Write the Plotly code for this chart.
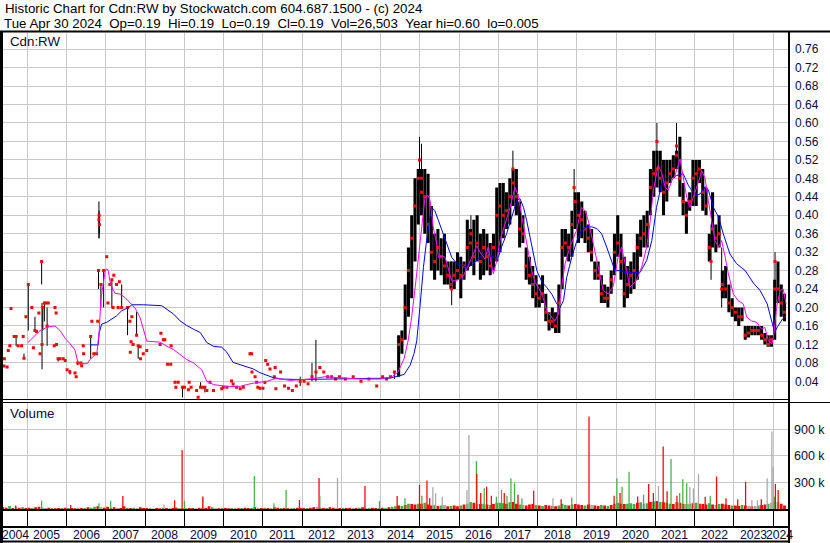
import plotly.graph_objects as go
import pandas as pd

W, H = 830, 543

# ---------------- data ----------------
# single-price trades (no range), 2004-2014: decimal year, price
dot_t = [2004.40, 2004.41, 2004.48, 2004.51, 2004.55, 2004.58, 2004.66, 2004.76, 2004.85, 2004.89, 2004.96,
         2005.11, 2005.15, 2005.23, 2005.29, 2005.32, 2005.47, 2005.53, 2005.68, 2005.70, 2005.73, 2005.74,
         2005.83, 2005.91, 2005.96,
         2006.01, 2006.21, 2006.24, 2006.36, 2006.38, 2006.42, 2006.43, 2006.64, 2006.69, 2006.76, 2006.79,
         2007.02, 2007.05, 2007.10, 2007.18, 2007.20, 2007.27, 2007.31, 2007.34, 2007.61, 2007.62, 2007.64,
         2007.66, 2007.69, 2007.87, 2007.88, 2007.95,
         2008.04, 2008.38, 2008.40, 2008.46, 2008.50, 2008.57, 2008.65, 2008.66, 2008.76, 2008.78, 2008.84,
         2009.00, 2009.10, 2009.12, 2009.17, 2009.31, 2009.35, 2009.46, 2009.57, 2009.65, 2009.74, 2009.95, 2009.99,
         2010.08, 2010.20, 2010.24, 2010.33, 2010.42, 2010.50, 2010.67, 2010.71, 2010.72, 2010.80, 2010.84,
         2010.87, 2010.92,
         2011.00, 2011.07, 2011.12, 2011.18, 2011.31, 2011.33, 2011.45, 2011.55, 2011.65, 2011.75, 2011.85,
         2012.05, 2012.15, 2012.45, 2012.55, 2012.65, 2012.75, 2012.85, 2012.95,
         2013.10, 2013.30, 2013.50, 2013.70, 2013.90, 2014.05, 2014.15, 2014.25]
dot_p = [0.073, 0.089, 0.071, 0.107, 0.117, 0.198, 0.137, 0.117, 0.117, 0.137, 0.180,
         0.200, 0.113, 0.148, 0.188, 0.100, 0.210, 0.210, 0.117, 0.200, 0.188, 0.120,
         0.089, 0.089, 0.085,
         0.065, 0.058, 0.050, 0.080, 0.074, 0.117, 0.100, 0.170, 0.100, 0.100, 0.170,
         0.310, 0.210, 0.250, 0.200, 0.270, 0.250, 0.200, 0.256, 0.170, 0.103, 0.126,
         0.180, 0.120, 0.115, 0.089, 0.100,
         0.107, 0.120, 0.144, 0.130, 0.130, 0.077, 0.077, 0.117, 0.038, 0.027, 0.038,
         0.027, 0.022, 0.038, 0.027, 0.020, 0.0055, 0.027, 0.020, 0.038, 0.020, 0.024, 0.027,
         0.027, 0.041, 0.034, 0.027, 0.024, 0.027, 0.100, 0.100, 0.060, 0.050, 0.038,
         0.027, 0.025,
         0.025, 0.085, 0.077, 0.067, 0.070, 0.024, 0.060, 0.030, 0.025, 0.020, 0.030,
         0.040, 0.035, 0.070, 0.060, 0.050, 0.050, 0.045, 0.050,
         0.045, 0.050, 0.040, 0.045, 0.030, 0.050, 0.045, 0.050]

# ranged single trading days (sparse years, plus extreme days of the active years): year, high, low, close
bar_t  = [2004.71, 2004.91, 2005.02, 2005.19, 2005.36, 2005.37, 2005.39, 2005.43, 2005.50, 2005.78,
          2006.08, 2006.28, 2006.61, 2006.81, 2006.82, 2006.825, 2006.83, 2006.87, 2006.94,
          2007.15, 2007.40, 2007.55, 2007.78, 2007.82, 2008.95, 2009.41, 2009.52, 2011.05, 2011.29,
          2011.95, 2012.25, 2012.35, 2014.35,
          2014.99, 2015.04, 2015.81, 2016.30, 2017.37, 2018.93, 2021.04, 2021.54, 2022.42, 2022.69, 2024.05]
bar_hi = [0.137, 0.100, 0.250, 0.180, 0.300, 0.210, 0.200, 0.210, 0.200, 0.089,
          0.065, 0.085, 0.137, 0.280, 0.430, 0.410, 0.400, 0.250, 0.280,
          0.260, 0.250, 0.200, 0.190, 0.117, 0.027, 0.038, 0.027, 0.038, 0.050,
          0.050, 0.080, 0.130, 0.060,
          0.570, 0.555, 0.300, 0.400, 0.540, 0.500, 0.600, 0.600, 0.380, 0.330, 0.320]
bar_lo = [0.117, 0.090, 0.150, 0.150, 0.250, 0.066, 0.150, 0.170, 0.117, 0.083,
          0.055, 0.075, 0.089, 0.240, 0.350, 0.350, 0.360, 0.200, 0.200,
          0.200, 0.200, 0.140, 0.140, 0.089, 0.005, 0.027, 0.016, 0.034, 0.045,
          0.030, 0.040, 0.040, 0.045,
          0.450, 0.420, 0.205, 0.330, 0.460, 0.410, 0.500, 0.520, 0.260, 0.200, 0.220]
bar_cl = [0.137, 0.090, 0.250, 0.150, 0.300, 0.120, 0.200, 0.210, 0.160, 0.089,
          0.060, 0.080, 0.137, 0.280, 0.390, 0.400, 0.380, 0.250, 0.280,
          0.260, 0.200, 0.200, 0.140, 0.117, 0.027, 0.027, 0.027, 0.038, 0.050,
          0.040, 0.050, 0.060, 0.060,
          0.520, 0.480, 0.240, 0.360, 0.500, 0.460, 0.560, 0.550, 0.300, 0.240, 0.300]

# monthly ranges of the active period (typical daily range), Jun 2014 .. Apr 2024
month_start, month_end = "2014-06", "2024-04"
month_hi = [0.14, 0.15, 0.25, 0.33, 0.40, 0.48, 0.50,
            0.50, 0.50, 0.49, 0.42, 0.36, 0.37, 0.35, 0.36, 0.30, 0.30, 0.30, 0.32,
            0.31, 0.30, 0.39, 0.37, 0.39, 0.40, 0.36, 0.37, 0.36, 0.34, 0.36, 0.46,
            0.47, 0.47, 0.45, 0.48, 0.50, 0.50, 0.43, 0.40, 0.33, 0.31, 0.29, 0.27,
            0.25, 0.27, 0.23, 0.19, 0.20, 0.19, 0.25, 0.37, 0.37, 0.36, 0.41, 0.45,
            0.45, 0.43, 0.41, 0.38, 0.37, 0.30, 0.30, 0.27, 0.25, 0.245, 0.28, 0.36,
            0.40, 0.36, 0.31, 0.29, 0.30, 0.32, 0.36, 0.39, 0.40, 0.41, 0.50, 0.54,
            0.54, 0.54, 0.52, 0.52, 0.52, 0.53, 0.54, 0.57, 0.47, 0.43, 0.45, 0.52,
            0.52, 0.52, 0.50, 0.46, 0.36, 0.45, 0.38, 0.40, 0.28, 0.29, 0.25, 0.22,
            0.20, 0.20, 0.20, 0.16, 0.16, 0.16, 0.16, 0.16, 0.16, 0.145, 0.14, 0.14,
            0.26, 0.30, 0.25, 0.23]
month_lo = [0.05, 0.10, 0.13, 0.18, 0.22, 0.30, 0.38,
            0.40, 0.36, 0.34, 0.28, 0.26, 0.28, 0.27, 0.25, 0.25, 0.24, 0.24, 0.26,
            0.22, 0.26, 0.28, 0.29, 0.27, 0.30, 0.26, 0.27, 0.28, 0.27, 0.28, 0.30,
            0.32, 0.35, 0.37, 0.38, 0.42, 0.40, 0.33, 0.34, 0.26, 0.25, 0.22, 0.20,
            0.20, 0.21, 0.17, 0.15, 0.155, 0.145, 0.145, 0.24, 0.31, 0.30, 0.31, 0.37,
            0.34, 0.35, 0.34, 0.32, 0.30, 0.26, 0.26, 0.21, 0.21, 0.20, 0.23, 0.27,
            0.31, 0.26, 0.20, 0.22, 0.23, 0.24, 0.26, 0.31, 0.33, 0.33, 0.40, 0.44,
            0.46, 0.45, 0.40, 0.43, 0.47, 0.48, 0.50, 0.44, 0.40, 0.36, 0.41, 0.42,
            0.42, 0.47, 0.41, 0.40, 0.30, 0.33, 0.32, 0.33, 0.22, 0.22, 0.19, 0.18,
            0.17, 0.16, 0.17, 0.13, 0.135, 0.14, 0.14, 0.14, 0.13, 0.12, 0.115, 0.115,
            0.13, 0.21, 0.18, 0.17]
month_cl = [0.12, 0.13, 0.20, 0.28, 0.35, 0.42, 0.48,
            0.45, 0.44, 0.38, 0.32, 0.30, 0.33, 0.31, 0.29, 0.27, 0.25, 0.27, 0.28,
            0.27, 0.29, 0.33, 0.34, 0.31, 0.34, 0.30, 0.33, 0.31, 0.29, 0.33, 0.40,
            0.42, 0.40, 0.41, 0.44, 0.47, 0.44, 0.37, 0.36, 0.29, 0.27, 0.25, 0.23,
            0.22, 0.23, 0.19, 0.17, 0.17, 0.16, 0.21, 0.33, 0.34, 0.33, 0.38, 0.43,
            0.40, 0.39, 0.37, 0.35, 0.32, 0.28, 0.27, 0.23, 0.22, 0.22, 0.26, 0.32,
            0.34, 0.30, 0.23, 0.25, 0.27, 0.28, 0.33, 0.35, 0.36, 0.38, 0.46, 0.49,
            0.50, 0.48, 0.45, 0.47, 0.49, 0.50, 0.53, 0.48, 0.43, 0.40, 0.43, 0.48,
            0.49, 0.50, 0.45, 0.42, 0.33, 0.37, 0.35, 0.36, 0.25, 0.24, 0.21, 0.20,
            0.19, 0.18, 0.18, 0.14, 0.145, 0.15, 0.15, 0.15, 0.14, 0.13, 0.12, 0.13,
            0.24, 0.24, 0.21, 0.19]

# short moving average (magenta)
ma_short_t = [2005.01, 2005.32, 2005.52, 2005.70, 2005.83, 2005.96, 2006.08, 2006.21, 2006.29, 2006.52,
              2006.59, 2006.67, 2006.77, 2006.83, 2006.87, 2006.92, 2006.98, 2007.02, 2007.06, 2007.10,
              2007.17, 2007.23, 2007.36, 2007.48, 2007.57, 2007.66, 2007.74, 2007.87, 2007.95, 2008.04,
              2008.38, 2008.55, 2008.72, 2008.89, 2009.06, 2009.23, 2009.44, 2009.57, 2009.74, 2010.08,
              2010.42, 2010.59, 2010.75, 2011.10, 2011.35, 2011.69, 2012.20, 2012.58, 2012.96, 2013.47,
              2013.98, 2014.29, 2014.44, 2014.60, 2014.70, 2014.79, 2014.88, 2014.96, 2015.05, 2015.13,
              2015.21, 2015.26, 2015.34, 2015.43, 2015.47, 2015.56, 2015.64, 2015.72, 2015.81, 2015.94,
              2016.11, 2016.21, 2016.32, 2016.45, 2016.53, 2016.66, 2016.74, 2016.87, 2016.96, 2017.04,
              2017.17, 2017.30, 2017.42, 2017.51, 2017.60, 2017.68, 2017.76, 2017.85, 2017.93, 2018.02,
              2018.14, 2018.23, 2018.36, 2018.44, 2018.53, 2018.61, 2018.70, 2018.82, 2018.99, 2019.12,
              2019.21, 2019.29, 2019.42, 2019.51, 2019.59, 2019.67, 2019.80, 2019.93, 2020.05, 2020.14,
              2020.27, 2020.35, 2020.52, 2020.65, 2020.78, 2020.86, 2020.95, 2021.07, 2021.16, 2021.25,
              2021.33, 2021.42, 2021.50, 2021.59, 2021.63, 2021.71, 2021.80, 2021.88, 2021.97, 2022.05,
              2022.14, 2022.18, 2022.27, 2022.35, 2022.44, 2022.52, 2022.61, 2022.69, 2022.78, 2022.86,
              2022.99, 2023.11, 2023.24, 2023.33, 2023.45, 2023.58, 2023.71, 2023.79, 2023.88, 2023.97,
              2024.02, 2024.09, 2024.18, 2024.26, 2024.33]
ma_short_v = [0.124, 0.150, 0.158, 0.160, 0.150, 0.133, 0.122, 0.108, 0.079, 0.078,
              0.087, 0.094, 0.101, 0.152, 0.217, 0.246, 0.279, 0.284, 0.279, 0.258,
              0.240, 0.231, 0.229, 0.222, 0.214, 0.207, 0.199, 0.178, 0.152, 0.127,
              0.125, 0.116, 0.109, 0.098, 0.087, 0.080, 0.065, 0.040, 0.033, 0.029,
              0.029, 0.033, 0.036, 0.040, 0.047, 0.042, 0.045, 0.050, 0.048, 0.045,
              0.045, 0.050, 0.060, 0.090, 0.128, 0.179, 0.244, 0.302, 0.374, 0.439,
              0.443, 0.432, 0.374, 0.338, 0.309, 0.312, 0.309, 0.287, 0.258, 0.258,
              0.269, 0.287, 0.309, 0.334, 0.320, 0.305, 0.331, 0.273, 0.302, 0.345,
              0.381, 0.417, 0.461, 0.443, 0.396, 0.360, 0.316, 0.280, 0.255, 0.244,
              0.222, 0.193, 0.179, 0.171, 0.186, 0.244, 0.295, 0.331, 0.367, 0.417,
              0.410, 0.389, 0.338, 0.302, 0.265, 0.237, 0.229, 0.247, 0.309, 0.331,
              0.280, 0.244, 0.259, 0.287, 0.331, 0.381, 0.454, 0.508, 0.493, 0.461,
              0.454, 0.475, 0.486, 0.508, 0.522, 0.483, 0.439, 0.417, 0.439, 0.461,
              0.483, 0.497, 0.479, 0.432, 0.381, 0.345, 0.331, 0.345, 0.309, 0.273,
              0.229, 0.215, 0.208, 0.179, 0.171, 0.168, 0.153, 0.157, 0.128, 0.121,
              0.143, 0.200, 0.237, 0.240, 0.208]

# long moving average (blue)
ma_long_t = [2006.59, 2006.80, 2006.83, 2006.89, 2007.02, 2007.15, 2007.27, 2007.40, 2007.57, 2007.66,
             2007.78, 2007.95, 2008.42, 2008.55, 2008.72, 2008.89, 2009.06, 2009.23, 2009.40, 2009.57,
             2009.74, 2009.95, 2010.08, 2010.24, 2010.42, 2010.59, 2010.75, 2010.92, 2011.10, 2011.26,
             2011.43, 2011.94, 2012.71, 2013.47, 2014.24, 2014.60, 2014.75, 2014.85, 2014.92, 2015.00,
             2015.09, 2015.17, 2015.26, 2015.34, 2015.38, 2015.47, 2015.56, 2015.68, 2015.81, 2015.94,
             2016.11, 2016.23, 2016.36, 2016.53, 2016.70, 2016.87, 2017.00, 2017.08, 2017.21, 2017.34,
             2017.47, 2017.55, 2017.64, 2017.72, 2017.81, 2017.89, 2017.98, 2018.11, 2018.23, 2018.36,
             2018.49, 2018.57, 2018.66, 2018.74, 2018.87, 2019.00, 2019.12, 2019.25, 2019.38, 2019.51,
             2019.63, 2019.76, 2019.89, 2019.97, 2020.10, 2020.23, 2020.44, 2020.61, 2020.78, 2020.91,
             2021.03, 2021.16, 2021.29, 2021.42, 2021.54, 2021.71, 2021.84, 2022.01, 2022.14, 2022.27,
             2022.35, 2022.48, 2022.61, 2022.73, 2022.90, 2023.07, 2023.29, 2023.50, 2023.67, 2023.85,
             2023.98, 2024.04, 2024.11, 2024.24, 2024.33]
ma_long_v = [0.119, 0.119, 0.146, 0.164, 0.168, 0.175, 0.182, 0.193, 0.200, 0.206,
             0.206, 0.206, 0.204, 0.197, 0.186, 0.171, 0.161, 0.153, 0.146, 0.124,
             0.116, 0.114, 0.103, 0.081, 0.076, 0.072, 0.067, 0.059, 0.054, 0.048,
             0.045, 0.044, 0.045, 0.046, 0.047, 0.055, 0.075, 0.100, 0.128, 0.200,
             0.287, 0.345, 0.399, 0.414, 0.410, 0.389, 0.367, 0.338, 0.309, 0.295,
             0.291, 0.287, 0.295, 0.309, 0.320, 0.309, 0.309, 0.331, 0.360, 0.396,
             0.432, 0.436, 0.417, 0.389, 0.352, 0.316, 0.280, 0.255, 0.244, 0.229,
             0.208, 0.200, 0.215, 0.265, 0.309, 0.345, 0.367, 0.375, 0.375, 0.371,
             0.360, 0.331, 0.302, 0.280, 0.280, 0.276, 0.276, 0.276, 0.302, 0.345,
             0.417, 0.468, 0.483, 0.481, 0.486, 0.490, 0.465, 0.443, 0.446, 0.462,
             0.455, 0.417, 0.396, 0.360, 0.316, 0.295, 0.280, 0.253, 0.237, 0.208,
             0.166, 0.146, 0.158, 0.175, 0.182]

# monthly background volume (thousands of shares), May 2004 .. Apr 2024, with up/down/unchanged colour codes
vol_start, vol_end = "2004-05", "2024-04"
vol_month_k = [20, 15, 35, 10, 25, 15, 20, 10,
               15, 10, 20, 25, 15, 10, 15, 10, 8, 12, 10, 15,
               10, 12, 8, 15, 10, 12, 20, 15, 25, 30, 20, 15,
               25, 15, 20, 15, 10, 30, 15, 10, 15, 12, 20, 10,
               10, 8, 5, 10, 8, 15, 12, 8, 10, 15, 8, 5,
               8, 10, 12, 8, 15, 10, 12, 30, 20, 10, 8, 10,
               10, 8, 10, 12, 8, 10, 15, 12, 10, 20, 15, 10,
               15, 10, 12, 20, 15, 10, 12, 8, 10, 12, 15, 10,
               12, 10, 15, 20, 25, 15, 10, 12, 20, 15, 10, 12,
               10, 12, 15, 10, 12, 15, 20, 10, 12, 15, 10, 12,
               15, 12, 20, 25, 30, 40, 35, 45, 60, 55, 50, 60,
               60, 70, 50, 40, 45, 35, 40, 45, 30, 35, 40, 30,
               40, 50, 60, 80, 70, 60, 55, 60, 50, 45, 55, 70,
               70, 65, 60, 75, 80, 60, 50, 45, 40, 50, 55, 45,
               40, 35, 45, 40, 35, 30, 40, 60, 45, 40, 50, 55,
               50, 45, 40, 50, 45, 40, 35, 45, 40, 35, 45, 60,
               70, 60, 55, 60, 65, 55, 70, 75, 60, 65, 80, 85,
               90, 80, 75, 70, 60, 55, 80, 70, 60, 55, 60, 65,
               70, 60, 55, 50, 65, 50, 45, 55, 60, 50, 45, 40,
               40, 35, 45, 40, 35, 30, 35, 40, 45, 50, 60, 70,
               90, 80, 60, 40]
vol_month_dir = ("rrgrnrgr" "rgrrgnrgrrgr" "grrnrgrggrnr" "rgrnrrgrgnrr" "rgnrrgrnrrgr" "grrnrgrrgnrg"
                 "rrgnrgrrgrnr" "grnrrgrrngrr" "rgrrngrgrrnr" "grrnrgrngrrg" "rgrggrgrgrrg" "rgrrgrgnrgrr"
                 "grggrnrgrgrg" "ggrgrrgnrrrg" "rgrrgrgggrgr" "rrgrnrrgrgrg" "grrgggrgngrg" "rgrggrgrrngr"
                 "grrrgrngrrrg" "rrgrnrngrrgn" "gnrr")

# heavy-volume days: decimal year, thousands of shares, direction
spike_t = [2004.70, 2005.36, 2006.10, 2006.82, 2007.12, 2007.43, 2008.48, 2008.75, 2008.94, 2009.00,
           2009.46, 2009.47, 2010.78, 2011.28, 2011.59, 2011.93, 2012.43, 2012.45, 2012.90, 2013.60,
           2013.97, 2014.42, 2014.62, 2014.99, 2015.05, 2015.18, 2015.25, 2015.33, 2015.40, 2015.57,
           2016.20, 2016.25, 2016.44, 2016.45, 2016.55, 2016.64, 2016.70, 2016.82, 2016.95, 2017.08,
           2017.15, 2017.22, 2017.32, 2017.41, 2017.50, 2017.60, 2017.90, 2018.39, 2018.60, 2018.87,
           2019.31, 2019.95, 2020.02, 2020.10, 2020.15, 2020.33, 2020.55, 2020.70, 2020.83, 2020.95,
           2021.08, 2021.20, 2021.30, 2021.40, 2021.55, 2021.62, 2021.70, 2021.80, 2021.88, 2021.97,
           2022.10, 2022.27, 2022.40, 2022.56, 2022.80, 2023.10, 2023.30, 2023.46, 2023.60, 2023.70,
           2023.85, 2023.97, 2024.00, 2024.03, 2024.06, 2024.13]
spike_k = [40, 92, 45, 64, 94, 147, 50, 100, 665, 94,
           132, 140, 372, 64, 214, 102, 350, 147, 350, 259,
           90, 147, 120, 271, 150, 320, 120, 244, 177, 139,
           214, 835, 541, 395, 180, 233, 252, 150, 139, 214,
           180, 150, 346, 290, 160, 120, 207, 120, 110, 130,
           1041, 150, 346, 180, 252, 421, 140, 160, 282, 180,
           259, 703, 200, 564, 150, 180, 335, 290, 252, 233,
           395, 139, 150, 365, 120, 110, 304, 102, 100, 110,
           346, 872, 475, 139, 282, 214]
spike_dir = ("rgrggrnrrg" "nrgggrrgnr" "grgrgrrnnn" "nngrrgrrgg" "rgggrgrnrg"
             "rrgrggrgrr" "nrrgrgggnn" "nrgrrrrnnr" "nnngrr")

years = list(range(2005, 2025))
year_labels = [str(y) for y in range(2004, 2025)]
price_ticks = [0.04, 0.08, 0.12, 0.16, 0.20, 0.24, 0.28, 0.32, 0.36, 0.40, 0.44, 0.48, 0.52, 0.56, 0.60,
               0.64, 0.68, 0.72, 0.76]
vol_ticks = [300000, 600000, 900000]
vol_tick_text = ["300 k", "600 k", "900 k"]

header1 = "Historic Chart for Cdn:RW by Stockwatch.com 604.687.1500 - (c) 2024"
header2 = "Tue Apr 30 2024  Op=0.19  Hi=0.19  Lo=0.19  Cl=0.19  Vol=26,503  Year hi=0.60  lo=0.005"

# ---------------- figure ----------------
FONT = "Liberation Sans, Arial, sans-serif"
GRID = "#c8c8c8"
TXT = "#0a0a3c"
COLMAP = {"r": "#ff0000", "g": "#44b044", "n": "#a8a8a8"}


def px_x(x):
    return x / W


def px_y(y):
    return 1 - y / H


def dec_year(p):
    return p.year + (p.month - 0.5) / 12.0


months = pd.period_range(month_start, month_end, freq="M")
month_t = [dec_year(p) for p in months]
vmonths = pd.period_range(vol_start, vol_end, freq="M")
vmonth_t = [dec_year(p) for p in vmonths]

x_left_px, x_right_px = 3, 788
# x pixel = 27.5 + (t-2005)*39.24 in the reference
x_range = [2005 + (x_left_px - 27.5) / 39.24, 2005 + (x_right_px - 27.5) / 39.24]

fig = go.Figure()

# monthly ranges (dense period)
fig.add_trace(go.Bar(x=month_t, y=[h - l for h, l in zip(month_hi, month_lo)], base=month_lo,
                     width=0.078, marker=dict(color="#000000", line=dict(width=0)),
                     xaxis="x", yaxis="y", hoverinfo="skip"))

# ranged single days
bx, by = [], []
for t, h, l in zip(bar_t, bar_hi, bar_lo):
    bx += [t, t, None]
    by += [l, h, None]
fig.add_trace(go.Scatter(x=bx, y=by, mode="lines", line=dict(color="#000000", width=1),
                         xaxis="x", yaxis="y", hoverinfo="skip"))

# closes
fig.add_trace(go.Scatter(x=dot_t + bar_t + month_t, y=dot_p + bar_cl + month_cl, mode="markers",
                         marker=dict(symbol="square", size=3, color="#ff0000", line=dict(width=0)),
                         xaxis="x", yaxis="y", hoverinfo="skip"))

fig.add_trace(go.Scatter(x=ma_long_t, y=ma_long_v, mode="lines", line=dict(color="#0000ff", width=1),
                         xaxis="x", yaxis="y", hoverinfo="skip"))
fig.add_trace(go.Scatter(x=ma_short_t, y=ma_short_v, mode="lines", line=dict(color="#ff00ff", width=1),
                         xaxis="x", yaxis="y", hoverinfo="skip"))

# volume
vdir = (vol_month_dir + "r" * len(vol_month_k))[:len(vol_month_k)]
fig.add_trace(go.Bar(x=vmonth_t, y=[v * 1000 for v in vol_month_k], width=0.07,
                     marker=dict(color=[COLMAP[c] for c in vdir], line=dict(width=0)),
                     xaxis="x2", yaxis="y2", hoverinfo="skip"))
sdir = (spike_dir + "r" * len(spike_k))[:len(spike_k)]
fig.add_trace(go.Bar(x=spike_t, y=[v * 1000 for v in spike_k], width=0.032,
                     marker=dict(color=[COLMAP[c] for c in sdir], line=dict(width=0)),
                     xaxis="x2", yaxis="y2", hoverinfo="skip"))

xcommon = dict(domain=[px_x(x_left_px), px_x(x_right_px)], range=x_range, tickmode="array",
               tickvals=years, showticklabels=False, ticks="", zeroline=False, showline=False,
               fixedrange=True)

fig.update_layout(
    width=W, height=H, margin=dict(l=0, r=0, t=0, b=0, pad=0),
    paper_bgcolor="white", plot_bgcolor="white", showlegend=False, barmode="overlay",
    font=dict(family=FONT, color="#000000"),
    xaxis=dict(**xcommon, anchor="y", showgrid=True, gridcolor=GRID, gridwidth=1),
    yaxis=dict(domain=[px_y(399.8), px_y(33)], range=[0, 0.795], side="right", anchor="x",
               tickmode="array", tickvals=price_ticks, ticktext=["%.2f" % v for v in price_ticks],
               showgrid=True, gridcolor=GRID, gridwidth=1, zeroline=False, ticks="",
               ticklabelstandoff=6, tickfont=dict(size=12, color=TXT, family=FONT), fixedrange=True),
    xaxis2=dict(**xcommon, anchor="y2", showgrid=True, gridcolor=GRID, gridwidth=1),
    yaxis2=dict(domain=[px_y(509), px_y(402.5)], range=[0, 1.2e6], side="right", anchor="x2",
                tickmode="array", tickvals=vol_ticks, ticktext=vol_tick_text,
                showgrid=True, gridcolor=GRID, gridwidth=1, zeroline=False, ticks="",
                ticklabelstandoff=5, tickfont=dict(size=12.5, color=TXT, family=FONT), fixedrange=True),
    xaxis3=dict(**xcommon, anchor="y3", showgrid=True, gridcolor="#000000", gridwidth=1),
    yaxis3=dict(domain=[px_y(527), px_y(510)], range=[0, 1], anchor="x3", showgrid=False,
                showticklabels=False, zeroline=False, ticks="", fixedrange=True),
)

# frame lines
shapes = []


def hline(y, x0, x1, w=1):
    shapes.append(dict(type="line", xref="paper", yref="paper", x0=px_x(x0), x1=px_x(x1),
                       y0=px_y(y), y1=px_y(y), line=dict(color="#000000", width=w)))


def vline(x, y0, y1, w=1):
    shapes.append(dict(type="line", xref="paper", yref="paper", x0=px_x(x), x1=px_x(x),
                       y0=px_y(y0), y1=px_y(y1), line=dict(color="#000000", width=w)))


hline(31.5, 0, 830, 2)
vline(1.5, 31, 543, 3)
vline(789, 31, 543, 2)
hline(399.5, 0, 789, 1)
hline(402.5, 0, 830, 1)
hline(510, 0, 789, 2)
hline(527, 0, 789, 2)
hline(541.5, 0, 789, 2)
fig.update_layout(shapes=shapes)

ann = []
ann.append(dict(text=header1, x=px_x(3), y=px_y(9), xref="paper", yref="paper", xanchor="left",
                yanchor="middle", showarrow=False, font=dict(size=13.3, family=FONT, color="#000000")))
ann.append(dict(text=header2.replace("  ", "\u00a0\u00a0"), x=px_x(2), y=px_y(23.5), xref="paper",
                yref="paper", xanchor="left", yanchor="middle", showarrow=False,
                font=dict(size=13.3, family=FONT, color="#000000")))
ann.append(dict(text="Cdn:RW", x=px_x(8), y=px_y(41.5), xref="paper", yref="paper", xanchor="left",
                yanchor="middle", showarrow=False, font=dict(size=13.3, family=FONT, color=TXT)))
ann.append(dict(text="Volume", x=px_x(8), y=px_y(413.5), xref="paper", yref="paper", xanchor="left",
                yanchor="middle", showarrow=False, font=dict(size=13.3, family=FONT, color=TXT)))
# year labels: left-aligned just right of each year boundary; first/last cells are partial
for lab in year_labels:
    y = int(lab)
    shift = 0
    if y == 2004:
        xpos, shift = x_range[0] + 0.002, -3
    elif y == 2024:
        xpos = 2024 - 0.22
    else:
        xpos = y + 0.10
    ann.append(dict(text=lab, x=xpos, xshift=shift, y=px_y(535), xref="x3", yref="paper", xanchor="left",
                    yanchor="middle", showarrow=False, font=dict(size=12.2, family=FONT, color=TXT)))
fig.update_layout(annotations=ann)

fig.write_html("out.html", config={"displayModeBar": False, "staticPlot": True},
               post_script="document.body.style.margin='0px';document.body.style.overflow='hidden';")
